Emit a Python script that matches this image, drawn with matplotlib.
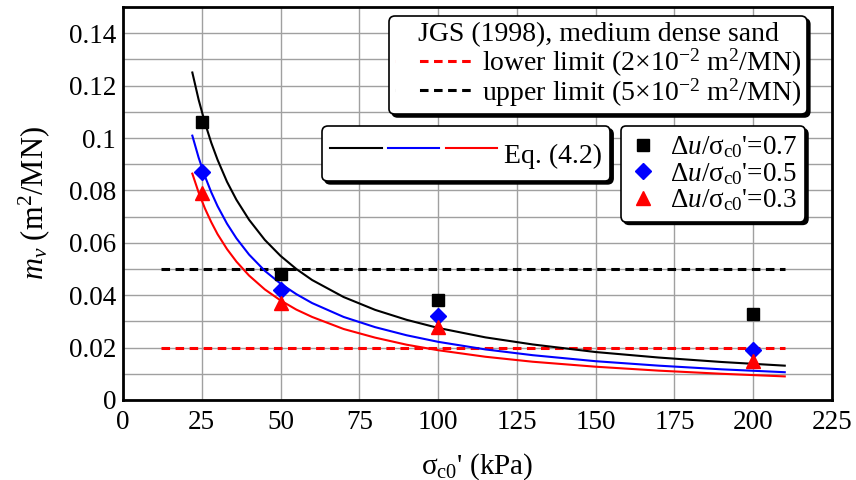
import matplotlib.pyplot as plt
from matplotlib.legend_handler import HandlerTuple
from matplotlib.lines import Line2D

plt.rcParams['font.family'] = ['Liberation Serif', 'DejaVu Serif']
plt.rcParams['mathtext.fontset'] = 'custom'
plt.rcParams['mathtext.rm'] = 'Liberation Serif'
plt.rcParams['mathtext.it'] = 'Liberation Serif:italic'
plt.rcParams['font.size'] = 20

# measured points (sigma_c0', m_v)
sigma_pts = [25, 50, 100, 200]
mv_07 = [0.106, 0.048, 0.038, 0.033]
mv_05 = [0.087, 0.042, 0.032, 0.019]
mv_03 = [0.079, 0.037, 0.028, 0.015]

# Eq. (4.2) curves
sigma_eq = [22, 24, 26, 28, 30, 33, 36, 40, 45, 50, 55, 60, 70, 80, 90,
            100, 115, 130, 150, 170, 190, 210]
eq_07 = [0.125, 0.1146, 0.1058, 0.0982, 0.0917, 0.0833, 0.0764, 0.0688,
         0.0611, 0.055, 0.05, 0.0458, 0.0393, 0.0344, 0.0306, 0.0275,
         0.0239, 0.0212, 0.0183, 0.0162, 0.0145, 0.0131]
eq_05 = [0.1009, 0.0925, 0.0854, 0.0793, 0.074, 0.0673, 0.0617, 0.0555,
         0.0493, 0.0444, 0.0404, 0.037, 0.0317, 0.0278, 0.0247, 0.0222,
         0.0193, 0.0171, 0.0148, 0.0131, 0.0117, 0.0106]
eq_03 = [0.0864, 0.0792, 0.0731, 0.0679, 0.0633, 0.0576, 0.0528, 0.0475,
         0.0422, 0.038, 0.0345, 0.0317, 0.0271, 0.0238, 0.0211, 0.019,
         0.0165, 0.0146, 0.0127, 0.0112, 0.01, 0.009]

# JGS (1998) limits
limit_x = [12, 210]
lower_limit = 0.02
upper_limit = 0.05

fig = plt.figure(figsize=(8.56, 4.8), dpi=100)
ax = fig.add_axes([0.1437, 0.1667, 0.8283, 0.8187])

ax.set_xlim(0, 225)
ax.set_ylim(0, 0.15)
ax.set_xticks(range(0, 226, 25))
ax.set_yticks([0, 0.02, 0.04, 0.06, 0.08, 0.1, 0.12, 0.14])
ax.set_yticklabels(['0', '0.02', '0.04', '0.06', '0.08', '0.1', '0.12', '0.14'])
ax.set_yticks([i / 100 for i in range(1, 15, 2)], minor=True)
ax.grid(True, which='both', color='#a0a0a0', linewidth=1.0)
ax.set_axisbelow(True)
ax.tick_params(which='both', length=0, labelsize=19.5)
ax.tick_params(axis='y', pad=5)
ax.tick_params(axis='x', pad=7)
for s in ax.spines.values():
    s.set_linewidth(2)

dash = (0, (2.8, 1.8))
ax.plot(limit_x, [lower_limit, lower_limit], color='red', lw=2.2, ls=dash)
ax.plot(limit_x, [upper_limit, upper_limit], color='black', lw=2.2, ls=dash)

l07, = ax.plot(sigma_eq, eq_07, color='black', lw=1.5)
l05, = ax.plot(sigma_eq, eq_05, color='blue', lw=1.5)
l03, = ax.plot(sigma_eq, eq_03, color='red', lw=1.5)

m07, = ax.plot(sigma_pts, mv_07, 's', color='black', ms=9, ls='none')
m05, = ax.plot(sigma_pts, mv_05, 'D', color='blue', ms=8, ls='none')
m03, = ax.plot(sigma_pts, mv_03, '^', color='red', ms=10, ls='none')

ax.set_xlabel("σ$_{\\rm c0}$' (kPa)", fontsize=21)
ax.xaxis.set_label_coords(0.5, -0.13)
ax.set_ylabel("$m_v$ (m$^2$/MN)", fontsize=22)
ax.yaxis.set_label_coords(-0.1, 0.5)

shadow = {'color': 'black', 'alpha': 1.0}

# legend keys for the limits: four dashes, indented inside the key area
key_dash = (0, (0.01, 8.0, 2.8, 1.8, 2.8, 1.8, 2.8, 1.8, 2.8, 30))
lo_key = Line2D([], [], color='red', lw=2.2, ls=key_dash, dash_capstyle='butt')
up_key = Line2D([], [], color='black', lw=2.2, ls=key_dash, dash_capstyle='butt')

leg1 = ax.legend([lo_key, up_key],
                 ['lower limit (2×10$^{-2}$ m$^2$/MN)',
                  'upper limit (5×10$^{-2}$ m$^2$/MN)'],
                 title='JGS (1998), medium dense sand', alignment='center',
                 loc='upper right', bbox_to_anchor=(0.9647, 0.977),
                 fontsize=20, title_fontsize=20, frameon=True, fancybox=True,
                 shadow=shadow, framealpha=1, edgecolor='black',
                 handlelength=2.85, handletextpad=0.3, borderpad=0.2,
                 labelspacing=-0.1, borderaxespad=0)
leg1.get_frame().set_linewidth(1.2)
leg1._legend_box.sep = 0
ax.add_artist(leg1)

leg2 = ax.legend([(l07, l05, l03)], ['Eq. (4.2)'],
                 handler_map={tuple: HandlerTuple(ndivide=None, pad=0.22)},
                 loc='upper left', bbox_to_anchor=(0.2807, 0.6972),
                 fontsize=20, frameon=True, fancybox=True, shadow=shadow,
                 framealpha=1, edgecolor='black', handlelength=6.0,
                 handleheight=1.75, handletextpad=0.25, borderpad=0.3,
                 borderaxespad=0)
leg2.get_frame().set_linewidth(1.2)
ax.add_artist(leg2)

leg3 = ax.legend([m07, m05, m03],
                 ["Δ$\\it{u}$/σ$_{\\rm c0}$'=0.7",
                  "Δ$\\it{u}$/σ$_{\\rm c0}$'=0.5",
                  "Δ$\\it{u}$/σ$_{\\rm c0}$'=0.3"],
                 loc='upper left', bbox_to_anchor=(0.7024, 0.6972),
                 fontsize=19.5, frameon=True, fancybox=True, shadow=shadow,
                 framealpha=1, edgecolor='black', handlelength=1.0,
                 handletextpad=0.5, borderpad=0.3, labelspacing=0.03,
                 borderaxespad=0)
leg3.get_frame().set_linewidth(1.2)

fig.savefig('out.png', dpi=100)
